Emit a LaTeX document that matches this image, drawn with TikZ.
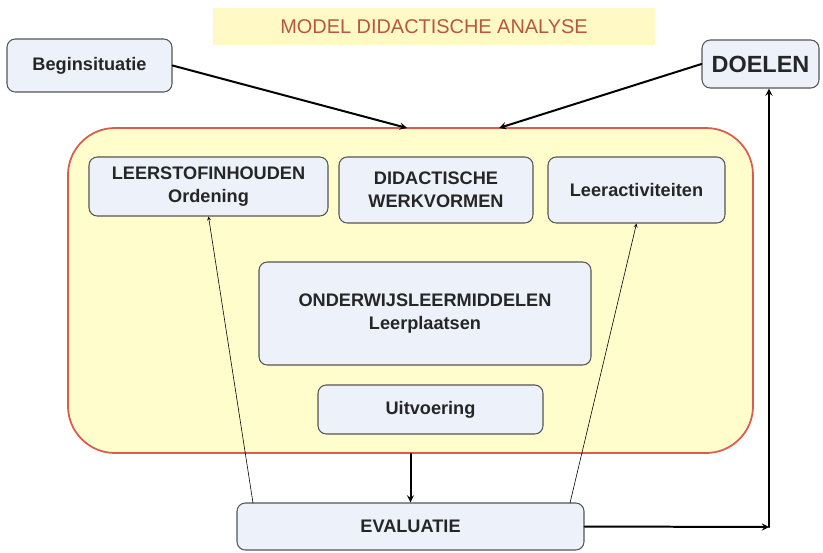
\documentclass[tikz,border=0pt]{standalone}
\usepackage{fontspec}
\setmainfont{Liberation Sans}
\definecolor{boxfill}{HTML}{EDF2FA}
\definecolor{boxline}{HTML}{555555}
\definecolor{framefill}{HTML}{FFFDCB}
\definecolor{frameline}{HTML}{DE5A4C}
\definecolor{titlefill}{HTML}{FFF9C6}
\definecolor{titletext}{HTML}{B9573C}
\tikzset{
  box/.style={draw=boxline, fill=boxfill, line width=0.9pt, rounded corners=0.25cm,
    align=center, inner sep=0pt, text=black!85, font=\bfseries\fontsize{15.5}{19.5}\selectfont},
  flow/.style={->, line width=1.7pt},
  thin/.style={->, line width=0.5pt}
}
\begin{document}
\begin{tikzpicture}[x=0.03cm, y=-0.03cm, >=stealth, line join=round, line cap=round]
				\useasboundingbox (0,0) rectangle (823,552);
				\node[fill=titlefill, minimum width=13.26cm, minimum height=1.11cm, text=titletext,
				  font=\fontsize{17}{20}\selectfont] (title) at (434,26.5) {MODEL DIDACTISCHE ANALYSE};
				\node[draw=frameline, fill=framefill, line width=1.5pt, rounded corners=1.41cm,
				  minimum width=20.55cm, minimum height=9.75cm] (frame) at (410.5,290.5) {};
				\node[box, minimum width=4.95cm, minimum height=1.59cm] (begin) at (89.5,65.5) {Beginsituatie};
				\node[box, minimum width=3.51cm, minimum height=1.44cm, font=\bfseries\fontsize{20}{24}\selectfont] (doelen) at (760.5,64) {DOELEN};
				\node[box, minimum width=7.17cm, minimum height=1.77cm] (leerstof) at (208.5,186.5) {LEERSTOFINHOUDEN\\Ordening};
				\node[box, minimum width=5.82cm, minimum height=1.98cm] (didact) at (436,190) {DIDACTISCHE\\WERKVORMEN};
				\node[box, minimum width=5.31cm, minimum height=1.98cm] (leeract) at (636.5,190) {Leeractiviteiten};
				\node[box, minimum width=9.96cm, minimum height=3.09cm] (middelen) at (425,313.5) {ONDERWIJSLEERMIDDELEN\\Leerplaatsen};
				\node[box, minimum width=6.75cm, minimum height=1.47cm] (uitvoer) at (430.5,409.5) {Uitvoering};
				\node[box, minimum width=10.41cm, minimum height=1.41cm] (evaluatie) at (410.5,526.5) {EVALUATIE};
				\path 
				(407,128) coordinate (inL)
				(499,128) coordinate (inR)
				(253,503) coordinate (evL)
				(570,503) coordinate (evR)
				(769,527) coordinate (hoek)
				;
				\draw[flow] (begin.east) -- (inL);
				\draw[flow] (doelen.west) -- (inR);
				\draw[flow] (frame.south) -- (evaluatie.north);
				\draw[thin] (evL) -- (leerstof.south);
				\draw[thin] (evR) -- (leeract.south);
				\draw[flow] (evaluatie.east) -- (hoek);
				\draw[flow] (hoek) -- (hoek |- doelen.south);
			\end{tikzpicture}
\end{document}
